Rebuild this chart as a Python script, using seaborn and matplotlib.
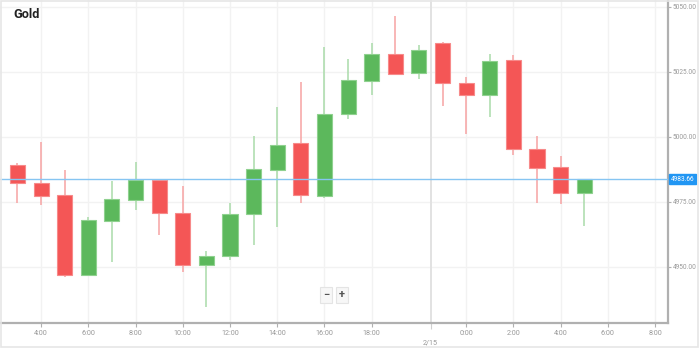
import numpy as np
import pandas as pd
import matplotlib
matplotlib.use("Agg")
import matplotlib.pyplot as plt
import seaborn as sns

# ---- data ----
opens  = [4989.1, 4982.3, 4977.5, 4946.8, 4967.6, 4975.5, 4983.3, 4970.8, 4950.7, 4954.1,
          4970.3, 4987.1, 4997.5, 4977.3, 5008.8, 5021.5, 5031.7, 5024.5, 5036.2, 5020.8,
          5015.9, 5029.5, 4995.3, 4988.2, 4978.2]
highs  = [4990.0, 4998.1, 4987.2, 4969.2, 4983.1, 4990.4, 4983.6, 4981.2, 4956.2, 4974.6,
          5000.3, 5011.5, 5021.2, 5034.4, 5029.8, 5035.9, 5046.5, 5035.3, 5036.4, 5023.1,
          5031.8, 5031.4, 5000.4, 4992.7, 4983.7]
lows   = [4974.6, 4973.7, 4945.9, 4946.5, 4951.9, 4971.8, 4962.2, 4948.0, 4934.4, 4952.8,
          4958.3, 4965.4, 4974.6, 4976.3, 5006.7, 5016.0, 5024.2, 5022.2, 5011.8, 5000.9,
          5007.6, 4993.0, 4974.6, 4974.0, 4965.8]
closes = [4982.1, 4977.2, 4946.8, 4968.0, 4975.9, 4983.2, 4970.7, 4950.5, 4954.2, 4970.3,
          4987.6, 4996.8, 4977.6, 5008.6, 5021.7, 5031.7, 5024.2, 5033.2, 5020.7, 5015.9,
          5029.2, 4995.3, 4988.0, 4978.2, 4983.66]
last_price = 4983.66
x_tick_pos = [1, 3, 5, 7, 9, 11, 13, 15, 19, 21, 23, 25, 27]
x_tick_labels = ["4:00", "6:00", "8:00", "10:00", "12:00", "14:00", "16:00", "18:00",
                 "0:00", "2:00", "4:00", "6:00", "8:00"]
day_pos = 17.5
day_label = "2/15"
y_ticks = [4950, 4975, 5000, 5025, 5050]
title = "Gold"

df = pd.DataFrame({"idx": np.arange(len(opens)), "open": opens, "high": highs,
                   "low": lows, "close": closes})
df["up"] = df["close"] >= df["open"]

sns.set_theme(style="white")
plt.rcParams["font.family"] = ["Roboto", "DejaVu Sans"]

fig = plt.figure(figsize=(6.99, 3.48), dpi=100)
ax = fig.add_axes([0.0, 0.0727, 0.9557, 0.9273])

RED, GREEN = "#f45656", "#5cb85c"
RED_W, GREEN_W = "#f7a3a3", "#a9dba9"
RED_E, GREEN_E = "#f78a8a", "#8fd18f"

# grid
for yv in y_ticks:
    ax.axhline(yv, color="#f2f2f2", lw=1, zorder=0)
for xv in x_tick_pos:
    ax.axvline(xv, color="#f2f2f2", lw=1, zorder=0)
ax.axvline(day_pos, color="#e2e2e2", lw=1.4, zorder=0)

# wicks
for up, sub in df.groupby("up"):
    ax.vlines(sub["idx"], sub["low"], sub["high"], color=GREEN_W if up else RED_W,
              lw=1.1, zorder=2)
# bodies
for up, sub in df.groupby("up"):
    bottoms = np.minimum(sub["open"], sub["close"])
    heights = np.abs(sub["close"] - sub["open"])
    ax.bar(sub["idx"], heights, bottom=bottoms, width=0.64,
           color=GREEN if up else RED, edgecolor=GREEN_E if up else RED_E,
           linewidth=0.8, zorder=3)

# last price line
ax.axhline(last_price, color="#86c5f2", lw=1, zorder=4)

ax.set_xlim(-0.74, 27.55)
ax.set_ylim(4928.5, 5052.6)

# axes styling
for s in ["left", "top"]:
    ax.spines[s].set_visible(False)
for s in ["right", "bottom"]:
    ax.spines[s].set_color("#b0b0b0")
    ax.spines[s].set_linewidth(1.6)

ax.yaxis.tick_right()
ax.set_yticks(y_ticks)
ax.set_yticklabels([f"{v:.2f}" for v in y_ticks])
ax.set_xticks(x_tick_pos)
ax.set_xticklabels(x_tick_labels)
ax.set_xticks([day_pos], minor=True)
ax.set_xticklabels([day_label], minor=True)
ax.tick_params(axis="x", which="major", direction="out", length=3, width=0.8,
               color="#b0b0b0", labelsize=5.2, labelcolor="#999999", pad=2,
               bottom=True)
ax.tick_params(axis="y", which="major", direction="out", length=2, width=0.8,
               color="#b0b0b0", labelsize=4.7, labelcolor="#999999", pad=1.5,
               right=True, left=False)
ax.tick_params(axis="x", which="minor", direction="out", length=4, width=0.8,
               color="#d0d0d0", labelsize=5.2, labelcolor="#999999", pad=8, bottom=True)

# last price tag
ax.annotate(f"{last_price:.2f}", xy=(1.0, last_price), xycoords=("axes fraction", "data"),
            xytext=(2.2, 0), textcoords="offset points", va="center", ha="left",
            fontsize=4.7, color="white",
            bbox=dict(boxstyle="square,pad=0.25", fc="#2196f3", ec="#2196f3"),
            annotation_clip=False, zorder=6)

# title
fig.text(13 / 699, 1 - 15 / 348, title, fontsize=9.2, fontweight="bold",
         color="#222222", va="center", ha="left")

# zoom buttons
for label, xc in [("\u2212", 326), ("+", 342)]:
    fig.text(xc / 699, 1 - 295 / 348, label, fontsize=8, fontweight="bold",
             color="#555555", ha="center", va="center",
             bbox=dict(boxstyle="square,pad=0.25", fc="#f7f7f7", ec="#e4e4e4", lw=0.8))

# outer frame
fig.patches.append(plt.Rectangle((0.001, 0.004), 0.998, 0.994, transform=fig.transFigure,
                                 fill=False, ec="#e6e6e6", lw=1.2))

fig.savefig("out.png", dpi=100)
